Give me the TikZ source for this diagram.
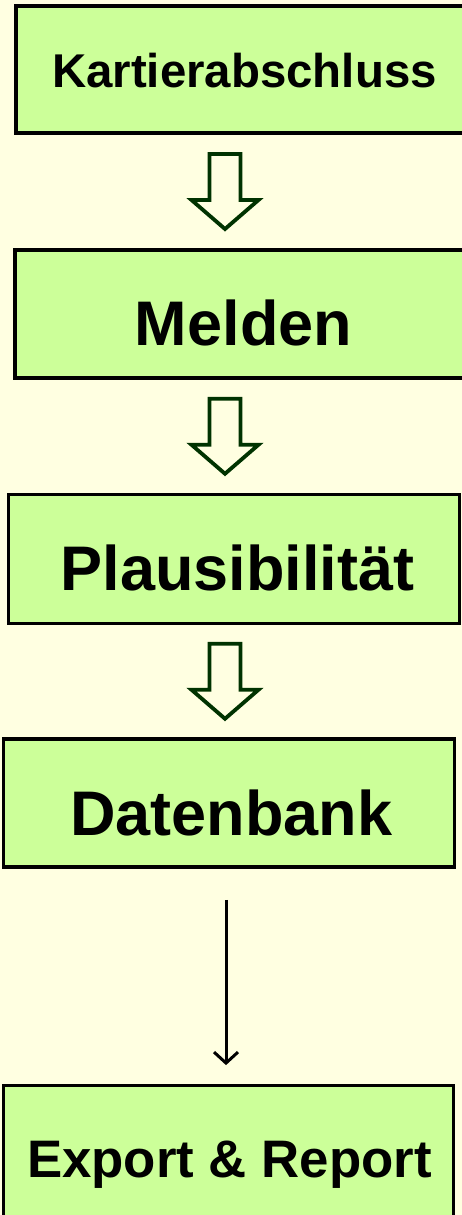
\documentclass[tikz,border=0pt]{standalone}
\usepackage{fontspec}
\setmainfont{Liberation Sans}
\usepackage{xcolor}
\usetikzlibrary{arrows.meta,calc}
\definecolor{bgyellow}{HTML}{FFFFE1}
\definecolor{boxgreen}{HTML}{CCFF99}
\definecolor{arrowgreen}{HTML}{003300}

\begin{document}
\begin{tikzpicture}[x=1pt,y=-1pt]
\tikzstyle{every node}+=[inner sep=0pt]
\tikzstyle{stepbox}=[rectangle,draw=black,fill=boxgreen,line width=3.8pt]
\tikzstyle{steptext}=[anchor=base,font=\bfseries\fontsize{63}{66}\selectfont]
\tikzstyle{hollowarrow}=[draw=arrowgreen,fill=bgyellow,line width=3.8pt,line join=miter]
\useasboundingbox (0,0) rectangle (462,1215);
\fill [bgyellow] (0,0) rectangle (462,1215);
\clip (0,0) rectangle (462,1215);
% boxes
\node [stepbox,minimum width=460,minimum height=127] (kart) at (246,69.5) {};
\node [stepbox,minimum width=459,minimum height=128] (meld) at (244.5,314) {};
\node [stepbox,minimum width=451,minimum height=129] (plaus) at (234,559) {};
\node [stepbox,minimum width=451,minimum height=128] (daten) at (229,803) {};
\node [stepbox,minimum width=450,minimum height=144.5] (export) at (228.5,1157.75) {};
% texts
\node [steptext,font=\bfseries\fontsize{47.4}{50}\selectfont] (kartT) at (244.5,87) {Kartierabschluss};
\node [steptext] (meldT) at (243.5,345) {Melden};
\node [steptext] (plausT) at (237.5,590) {Plausibilität};
\node [steptext] (datenT) at (231.5,835) {Datenbank};
\node [steptext,font=\bfseries\fontsize{52.8}{56}\selectfont] (exportT) at (229.5,1177) {Export \& Report};
% hollow arrows between the boxes
\foreach \a/\b in {kart/meld,meld/plaus,plaus/daten}{
  \coordinate (m) at ($(\a.south)!0.5!(\b.north)$);
  \draw [hollowarrow] (m -| 225,0) ++(-15.5,-37.5) -- ++(31,0) -- ++(0,46) -- ++(18,0)
    -- ++(-33.5,29) -- ++(-33.5,-29) -- ++(18,0) -- cycle;
}
% thin arrow
\draw [black,line width=3pt,shorten <=31pt,shorten >=18.5pt,-{Straight Barb[length=11pt,width=24pt]}]
  (daten.south -| 226,0) -- (export.north -| 226,0);
\end{tikzpicture}
\end{document}
